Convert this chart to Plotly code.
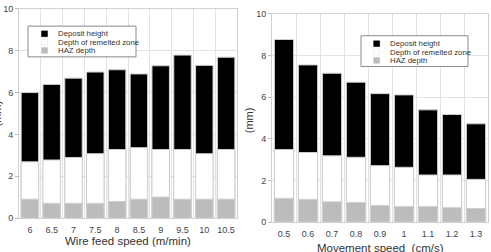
import plotly.graph_objects as go

W, H = 491, 252

# ---- data ----
wire_speed = ["6", "6.5", "7", "7.5", "8", "8.5", "9", "9.5", "10", "10.5"]
wire_deposit = [6.0, 6.39, 6.69, 6.98, 7.09, 6.89, 7.28, 7.79, 7.30, 7.69]
wire_remelt = [2.69, 2.78, 2.90, 3.08, 3.28, 3.37, 3.28, 3.28, 3.08, 3.28]
wire_haz = [0.91, 0.71, 0.71, 0.71, 0.80, 0.91, 1.01, 0.91, 0.91, 0.91]

move_speed = ["0.5", "0.6", "0.7", "0.8", "0.9", "1", "1.1", "1.2", "1.3"]
move_deposit = [8.77, 7.55, 7.15, 6.72, 6.17, 6.11, 5.39, 5.17, 4.72]
move_remelt = [3.48, 3.34, 3.18, 3.11, 2.71, 2.63, 2.26, 2.26, 2.05]
move_haz = [1.14, 1.09, 0.97, 0.94, 0.80, 0.74, 0.74, 0.69, 0.65]

y_ticks = [0, 2, 4, 6, 8, 10]
series_names = ["Deposit height", "Depth of remelted zone", "HAZ depth"]
series_colors = ["#000000", "#ffffff", "#bcbcbc"]

FONT = "Liberation Sans, Arial, sans-serif"


def px(x):
    return x / W


def py(y):
    return 1 - y / H


fig = go.Figure()

panels = [
    (wire_speed, [wire_deposit, wire_remelt, wire_haz], "x", "y"),
    (move_speed, [move_deposit, move_remelt, move_haz], "x2", "y2"),
]
for cats, vals, xa, ya in panels:
    idx = list(range(len(cats)))
    for name, v, c in zip(series_names, vals, series_colors):
        fig.add_trace(go.Bar(
            x=idx, y=v, name=name, xaxis=xa, yaxis=ya, width=0.8,
            marker=dict(color=c, line=dict(color="#cfcfcf", width=1)),
            showlegend=False,
        ))


def xaxis_cfg(cats, dom):
    n = len(cats)
    return dict(
        domain=dom, range=[-0.5, n - 0.5], tickmode="array",
        tickvals=list(range(n)), ticktext=cats, showgrid=False,
        ticks="outside", ticklen=3, tickcolor="rgba(0,0,0,0)",
        tickfont=dict(size=9, color="#444", family=FONT),
        showline=True, mirror=True, linecolor="#d0d0d0", linewidth=1,
        zeroline=False,
        minor=dict(tickmode="array", tickvals=[i - 0.5 for i in range(n + 1)],
                   showgrid=True, gridcolor="#e2e2e2", gridwidth=1),
    )


def yaxis_cfg(dom, anchor):
    return dict(
        domain=dom, range=[0, 10], tickmode="array", tickvals=y_ticks,
        showgrid=True, gridcolor="#e2e2e2", gridwidth=1, zeroline=False,
        ticks="outside", ticklen=3, tickcolor="#bbb",
        tickfont=dict(size=9, color="#444", family=FONT),
        showline=True, mirror=True, linecolor="#d0d0d0", linewidth=1,
        anchor=anchor,
    )


fig.update_layout(
    width=W, height=H, margin=dict(l=0, r=0, t=0, b=0),
    paper_bgcolor="white", plot_bgcolor="white", barmode="overlay",
    showlegend=False, font=dict(family=FONT),
    xaxis=dict(xaxis_cfg(wire_speed, [px(19), px(237)]), anchor="y"),
    yaxis=yaxis_cfg([py(222), py(4)], "x"),
    xaxis2=dict(xaxis_cfg(move_speed, [px(272), px(488)]), anchor="y2"),
    yaxis2=yaxis_cfg([py(226), py(9.3)], "x2"),
)

# axis titles
ann = [
    dict(text="Wire feed speed (m/min)", x=px(128), y=py(246), size=11.5, rot=0),
    dict(text="Movement speed  (cm/s)", x=px(380), y=py(253), size=11.5, rot=0),
    dict(text="(mm)", x=px(249), y=py(120), size=11, rot=-90),
    dict(text="(mm)", x=px(-3), y=py(113), size=11, rot=-90),
]
for a in ann:
    fig.add_annotation(text=a["text"], x=a["x"], y=a["y"], xref="paper", yref="paper",
                       showarrow=False, xanchor="center", yanchor="middle", borderpad=0,
                       textangle=a["rot"], font=dict(size=a["size"], color="#333", family=FONT))

# manual legends
legends = [
    dict(box=(28, 22, 136, 54), rows=[30, 38.7, 47.3], mx=44.5, tx=56.5),
    dict(box=(361, 32, 468, 64), rows=[40.3, 49, 57.7], mx=376.7, tx=389),
]
for lg in legends:
    x0, y0, x1, y1 = lg["box"]
    fig.add_shape(type="rect", xref="paper", yref="paper",
                  x0=px(x0), x1=px(x1), y0=py(y1), y1=py(y0),
                  fillcolor="white", line=dict(color="#8a8a8a", width=1), layer="above")
    for name, c, ry in zip(series_names, series_colors, lg["rows"]):
        s = 3
        fig.add_shape(type="rect", xref="paper", yref="paper",
                      x0=px(lg["mx"] - s), x1=px(lg["mx"] + s),
                      y0=py(ry + s), y1=py(ry - s), fillcolor=c,
                      line=dict(color="#e0e0e0" if c == "#ffffff" else c, width=0.5),
                      layer="above")
        fig.add_annotation(text=name, x=px(lg["tx"]), y=py(ry), xref="paper", yref="paper",
                           showarrow=False, xanchor="left", yanchor="middle", borderpad=0,
                           font=dict(size=7.8, color="#333", family=FONT))

fig.write_html("out.html")
